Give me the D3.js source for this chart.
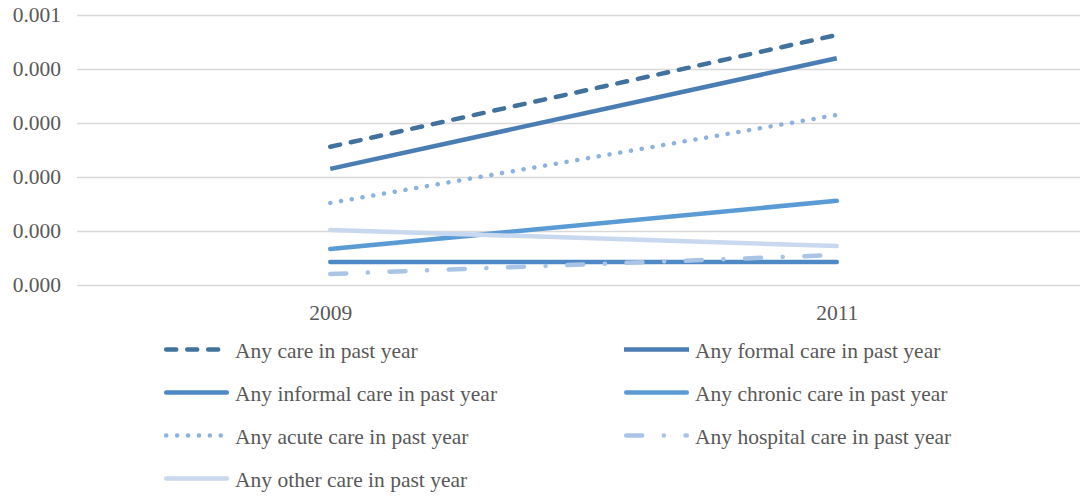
<!DOCTYPE html>
<html><head><meta charset="utf-8">
<script src="https://cdn.jsdelivr.net/npm/d3@7"></script>
<style>
html,body{margin:0;padding:0;background:#fff;}
</style></head>
<body><svg id="c" width="1080" height="497"></svg>
<script>
const years = ["2009","2011"];
const yTicks = [0, 0.0001, 0.0002, 0.0003, 0.0004, 0.0005];
const seriesNames = [
  "Any care in past year",
  "Any formal care in past year",
  "Any informal care in past year",
  "Any chronic care in past year",
  "Any acute care in past year",
  "Any hospital care in past year",
  "Any other care in past year"
];
const anyCare      = [0.000256, 0.000463];
const formalCare   = [0.000215, 0.000420];
const informalCare = [0.0000426, 0.0000426];
const chronicCare  = [0.0000667, 0.000156];
const acuteCare    = [0.000152, 0.000315];
const hospitalCare = [0.0000204, 0.0000556];
const otherCare    = [0.000102, 0.0000722];
const seriesValues = [anyCare, formalCare, informalCare, chronicCare, acuteCare, hospitalCare, otherCare];

const styles = [
  {color:"#41719c", dash:"10,11", cap:"round"},
  {color:"#4a7db3", dash:null, cap:"butt"},
  {color:"#4f89c5", dash:null, cap:"round"},
  {color:"#5b9bd5", dash:null, cap:"round"},
  {color:"#8cb3e0", dash:"0.1,10.8", cap:"round"},
  {color:"#aac4e6", dash:"16,21.6,0.1,21.6", cap:"round"},
  {color:"#c8d8ee", dash:null, cap:"round"}
];

const FONT = '"Liberation Serif", "Times New Roman", serif';
const FS = 21.5;
const TXT = "#595959";

const svg = d3.select("#c");
const x = d3.scalePoint().domain(years).range([77, 1090]).padding(0.5);
const y = d3.scaleLinear().domain([0, 0.0005]).range([285, 15]);
const fmt = d3.format(".3f");

// gridlines
svg.append("g").selectAll("line").data(yTicks).join("line")
  .attr("x1", 77).attr("x2", 1080)
  .attr("y1", d => Math.round(y(d)) + 0.5).attr("y2", d => Math.round(y(d)) + 0.5)
  .attr("stroke", "#d9d9d9").attr("stroke-width", 1.3);

// y axis labels
const yAxis = d3.axisLeft(y).tickValues(yTicks).tickFormat(fmt).tickSize(0).tickPadding(0);
const gy = svg.append("g").attr("transform", "translate(61,0)").call(yAxis);
gy.select(".domain").remove();
gy.selectAll("text").style("font-family", FONT).style("font-size", FS + "px").attr("fill", TXT);

// x axis labels
const xAxis = d3.axisBottom(x).tickSize(0).tickPadding(0);
const gx = svg.append("g").attr("transform", "translate(0,319.5)").call(xAxis);
gx.select(".domain").remove();
gx.selectAll("text").style("font-family", FONT).style("font-size", FS + "px").attr("fill", TXT).attr("dy", 0).attr("y", 0);

// lines
const line = d3.line().x((d, i) => x(years[i])).y(d => y(d));
seriesValues.forEach((vals, i) => {
  const s = styles[i];
  svg.append("path").datum(vals).attr("d", line)
    .attr("fill", "none").attr("stroke", s.color).attr("stroke-width", 4.5)
    .attr("stroke-linecap", s.cap)
    .attr("stroke-dasharray", s.dash);
});

// legend
const legX = [164, 624], legY = [349.5, 392.5, 435.5, 478.5];
seriesNames.forEach((name, i) => {
  const col = i % 2, row = Math.floor(i / 2);
  const s = styles[i];
  const g = svg.append("g").attr("transform", `translate(${legX[col]},${legY[row]})`);
  const cap = s.cap === "round" ? 2.2 : 0;
  g.append("line").attr("x1", cap).attr("x2", 65 - cap).attr("y1", 0).attr("y2", 0)
    .attr("stroke", s.color).attr("stroke-width", 4.5)
    .attr("stroke-linecap", s.cap).attr("stroke-dasharray", s.dash);
  g.append("text").attr("x", 71).attr("y", 8.5)
    .style("font-family", FONT).style("font-size", FS + "px").attr("fill", TXT).text(name);
});
</script></body></html>
